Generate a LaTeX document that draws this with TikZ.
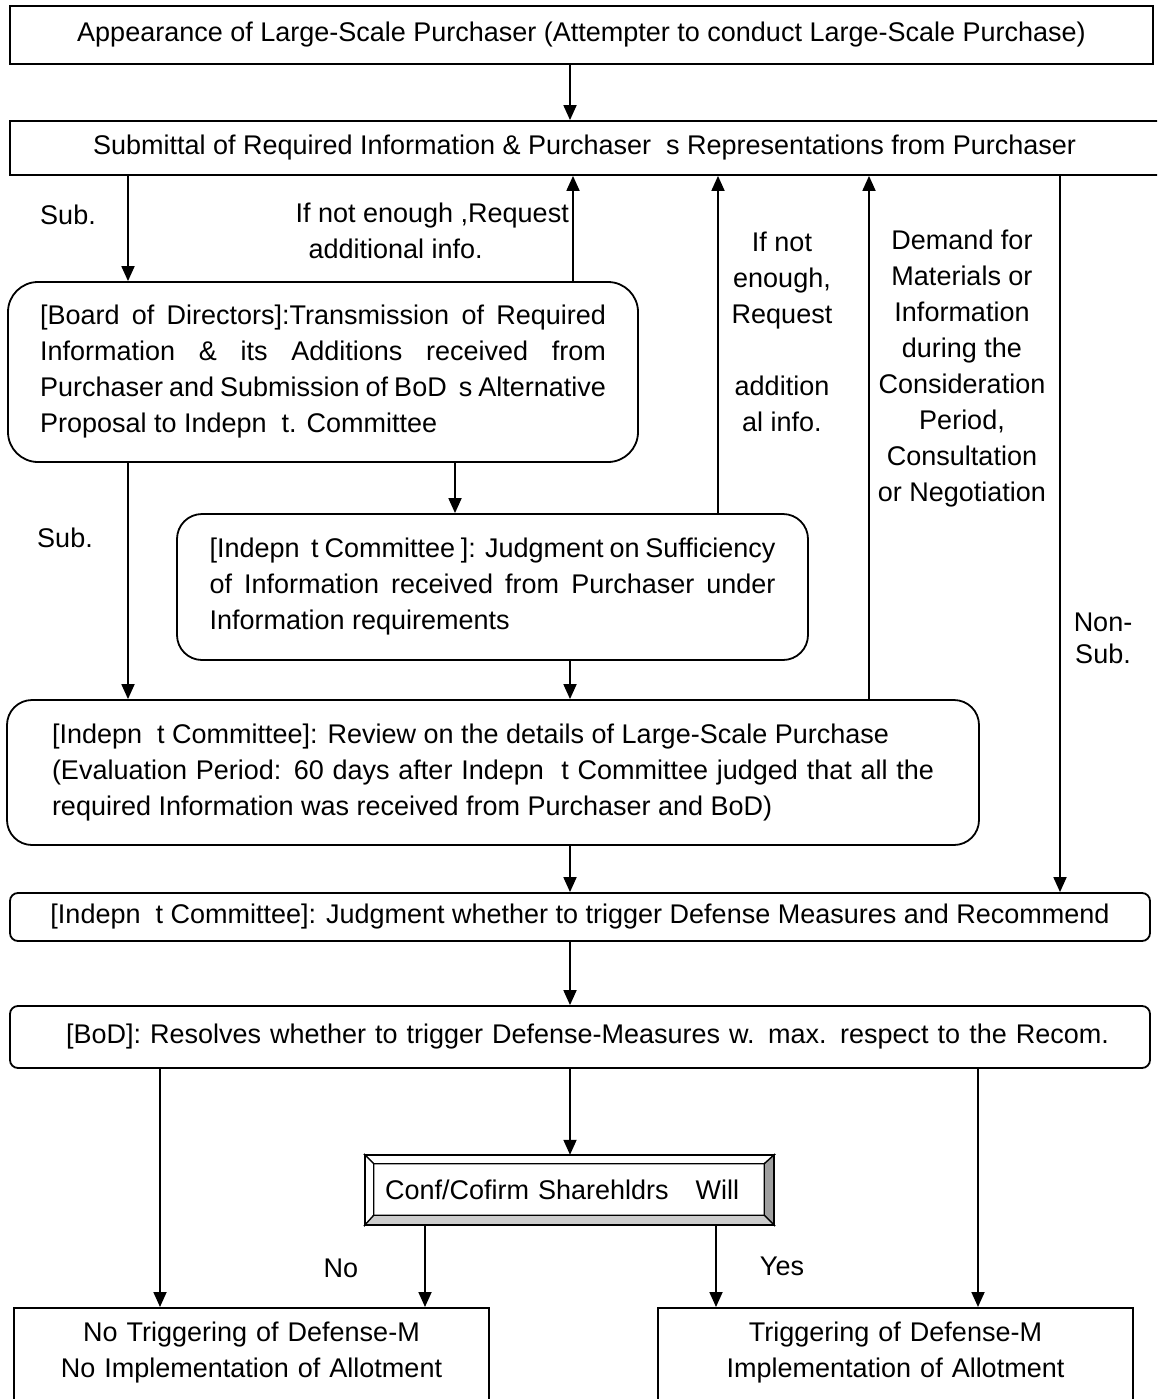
\documentclass[tikz,border=0pt]{standalone}
\usepackage{fontspec}
\setmainfont{Liberation Sans}
\usetikzlibrary{arrows.meta,calc}
\newcommand{\bigtxt}{\fontsize{27}{36}\selectfont\hyphenpenalty=10000 \tolerance=9999 }
\newcommand{\nontxt}{\fontsize{27}{32}\selectfont}
\begin{document}
\begin{tikzpicture}[x=1pt,y=-1pt,
  txt/.style={font=\bigtxt, inner sep=0pt},
  sq/.style={txt, draw, line width=1.8pt, inner sep=4pt},
  rbox/.style={sq, rounded corners=#1},
  arr/.style={line width=1.8pt, -{Triangle[width=13pt,length=15pt]}},
  bevel/.style={draw, line width=1.3pt, line join=miter}]
\useasboundingbox (0,0) rectangle (1157,1399);
\fill[white] (0,0) rectangle (1157,1399);
\clip (0,0) rectangle (1157,1399);

% column coordinates
\coordinate (c128) at (128,0);
\coordinate (c160) at (160,0);
\coordinate (c425) at (425,0);
\coordinate (c455) at (455,0);
\coordinate (c570) at (570,0);
\coordinate (c573) at (573,0);
\coordinate (c716) at (716,0);
\coordinate (c718) at (718,0);
\coordinate (c869) at (869,0);
\coordinate (c978) at (978,0);
\coordinate (c1060) at (1060,0);

% boxes
\node[sq, minimum width=1143, minimum height=58] (appear) at (581.5,35)
  {Appearance of Large-Scale Purchaser (Attempter to conduct Large-Scale Purchase)};
\node[sq, minimum width=1149, minimum height=54] (submit) at (584.5,148)
  {Submittal of Required Information \& Purchaser\ \ s Representations from Purchaser};
\node[rbox=30, minimum width=630, minimum height=180, text width=566, align=justify] (bod1) at (323,372)
  {[Board of Directors]:Transmission of Required\linebreak Information \& its Additions received from\linebreak Purchaser and Submission of BoD\ \ s Alternative\linebreak Proposal to Indepn\ \ t. Committee};
\node[rbox=25, minimum width=631, minimum height=146, text width=566, align=justify] (ic1) at (492.5,587)
  {[Indepn\ \ t Committee ]: Judgment on Sufficiency\linebreak of Information received from Purchaser under\linebreak Information requirements};
\node[rbox=25, minimum width=972, minimum height=145, text width=882, align=justify] (ic2) at (493,772.5)
  {[Indepn\ \ t Committee]: Review on the details of Large-Scale Purchase\\(Evaluation Period: 60 days after Indepn\ \ t Committee judged that all the\linebreak required Information was received from Purchaser and BoD)};
\node[rbox=8, minimum width=1140, minimum height=48] (ic3) at (580,917)
  {[Indepn\ \ t Committee]: Judgment whether to trigger Defense Measures and Recommend};
\node[rbox=8, minimum width=1140, minimum height=62, text width=1100, align=left] (bod2) at (580,1037)
  {\hspace*{36pt}[BoD]: Resolves whether to trigger Defense-Measures w. max. respect to the Recom.};
\node[txt, minimum width=409, minimum height=70, text width=369, align=left] (conf) at (569.5,1190)
  {Conf/Cofirm Sharehldrs\ \ \ Will};
\node[sq, anchor=north, minimum width=475, text width=455, align=center, inner ysep=14pt, text depth=120pt] (bl) at (251.5,1307)
  {No Triggering of Defense-M\\No Implementation of Allotment};
\node[sq, anchor=north, minimum width=475, text width=455, align=center, inner ysep=14pt, text depth=120pt] (br) at (895.5,1307)
  {Triggering of Defense-M\\Implementation of Allotment};

% bevel frame of conf
\coordinate (oNW) at (conf.north west);
\coordinate (oNE) at (conf.north east);
\coordinate (oSE) at (conf.south east);
\coordinate (oSW) at (conf.south west);
\coordinate (iNW) at ($(conf.north west)+(9,9)$);
\coordinate (iNE) at ($(conf.north east)+(-10,9)$);
\coordinate (iSE) at ($(conf.south east)+(-10,-10)$);
\coordinate (iSW) at ($(conf.south west)+(9,-10)$);
\filldraw[bevel, fill=white] (oNW) -- (oNE) -- (iNE) -- (iNW) -- cycle;
\filldraw[bevel, fill=white] (oNW) -- (iNW) -- (iSW) -- (oSW) -- cycle;
\filldraw[bevel, fill=gray!75] (oNE) -- (oSE) -- (iSE) -- (iNE) -- cycle;
\filldraw[bevel, fill=gray!40] (oSW) -- (iSW) -- (iSE) -- (oSE) -- cycle;
\draw[line width=1.8pt] (oNW) rectangle (oSE);

% connectors
\draw[arr] (appear.south -| c570) -- (submit.north -| c570);
\draw[arr] (submit.south -| c128) -- (bod1.north -| c128);
\draw[arr] (bod1.north -| c573) -- (submit.south -| c573);
\draw[arr] (bod1.south -| c455) -- (ic1.north -| c455);
\draw[arr] (bod1.south -| c128) -- (ic2.north -| c128);
\draw[arr] (ic1.north -| c718) -- (submit.south -| c718);
\draw[arr] (ic1.south -| c570) -- (ic2.north -| c570);
\draw[arr] (ic2.north -| c869) -- (submit.south -| c869);
\draw[arr] (submit.south -| c1060) -- (ic3.north -| c1060);
\draw[arr] (ic2.south -| c570) -- (ic3.north -| c570);
\draw[arr] (ic3.south -| c570) -- (bod2.north -| c570);
\draw[arr] (bod2.south -| c160) -- (bl.north -| c160);
\draw[arr] (bod2.south -| c570) -- (conf.north -| c570);
\draw[arr] (bod2.south -| c978) -- (br.north -| c978);
\draw[arr] (conf.south -| c425) -- (bl.north -| c425);
\draw[arr] (conf.south -| c716) -- (br.north -| c716);

% labels
\node[txt] (lsub1) at (68,215) {Sub.};
\node[txt] (lsub2) at (65,538) {Sub.};
\node[txt, align=left, anchor=east] (lreq1) at (569,231) {If not enough ,Request\\\hspace*{13pt}additional info.};
\node[txt, align=center] (lreq2) at (782,332) {If not\\enough,\\Request\\[36pt]addition\\al info.};
\node[txt, align=center] (ldemand) at (962,369) {Demand for\\Materials or\\Information\\during the\\Consideration\\Period,\\Consultation\\or Negotiation};
\node[txt, align=center, font=\nontxt] (lnon) at (1103,638) {Non-\\Sub.};
\node[txt] (lno) at (341,1268) {No};
\node[txt] (lyes) at (782,1266) {Yes};
\end{tikzpicture}
\end{document}
